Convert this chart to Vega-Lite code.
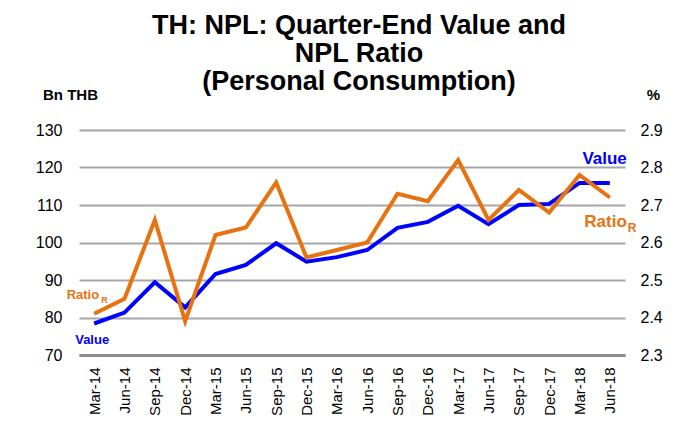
{
  "$schema": "https://vega.github.io/schema/vega-lite/v6.json",
  "width": 546,
  "height": 225,
  "autosize": {"type": "none"},
  "padding": {"left": 79, "top": 130, "right": 54, "bottom": 68},
  "background": "white",
  "config": {
    "view": {"stroke": null},
    "font": "Liberation Sans",
    "axis": {"labelFont": "Liberation Sans", "titleFont": "Liberation Sans", "labelOverlap": false, "labelColor": "#000000", "titleColor": "#000000"},
    "axisLeft": {
      "tickCount": 7,
      "titleAngle": 0,
      "titleAlign": "center",
      "titleBaseline": "middle",
      "titleX": -9,
      "titleY": -36,
      "titleFontSize": 15,
      "titleFontWeight": "bold",
      "labelFontSize": 16,
      "labelPadding": 17,
      "ticks": false,
      "domain": false,
      "grid": true,
      "gridColor": "#a6a6a6",
      "gridWidth": 2
    },
    "axisRight": {
      "tickCount": 7,
      "titleAngle": 0,
      "titleAlign": "center",
      "titleBaseline": "middle",
      "titleX": 28,
      "titleY": -36,
      "titleFontSize": 15,
      "titleFontWeight": "bold",
      "labelFontSize": 16,
      "labelPadding": 15,
      "ticks": false,
      "domain": false,
      "grid": false
    }
  },
  "title": {
    "text": ["TH: NPL: Quarter-End Value and", "NPL Ratio", "(Personal Consumption)"],
    "font": "Liberation Sans",
    "fontSize": 27,
    "fontWeight": "bold",
    "lineHeight": 28,
    "color": "#000000",
    "anchor": "middle",
    "frame": "group",
    "dx": 7,
    "offset": -9
  },
  "datasets": {
    "npl": [
      {"q": "Mar-14", "value": 78.4, "ratio": 2.41},
      {"q": "Jun-14", "value": 81.3, "ratio": 2.45},
      {"q": "Sep-14", "value": 89.4, "ratio": 2.66},
      {"q": "Dec-14", "value": 82.7, "ratio": 2.39},
      {"q": "Mar-15", "value": 91.6, "ratio": 2.62},
      {"q": "Jun-15", "value": 94.0, "ratio": 2.64},
      {"q": "Sep-15", "value": 99.8, "ratio": 2.76},
      {"q": "Dec-15", "value": 94.9, "ratio": 2.56},
      {"q": "Mar-16", "value": 96.1, "ratio": 2.58},
      {"q": "Jun-16", "value": 98.0, "ratio": 2.60},
      {"q": "Sep-16", "value": 103.9, "ratio": 2.73},
      {"q": "Dec-16", "value": 105.5, "ratio": 2.71},
      {"q": "Mar-17", "value": 109.8, "ratio": 2.82},
      {"q": "Jun-17", "value": 104.9, "ratio": 2.66},
      {"q": "Sep-17", "value": 110.0, "ratio": 2.74},
      {"q": "Dec-17", "value": 110.3, "ratio": 2.68},
      {"q": "Mar-18", "value": 115.9, "ratio": 2.78},
      {"q": "Jun-18", "value": 115.9, "ratio": 2.72}
    ]
  },
  "encoding": {
    "x": {
      "field": "q",
      "type": "ordinal",
      "sort": null,
      "scale": {"type": "point", "padding": 0.5, "domain": ["Mar-14","Jun-14","Sep-14","Dec-14","Mar-15","Jun-15","Sep-15","Dec-15","Mar-16","Jun-16","Sep-16","Dec-16","Mar-17","Jun-17","Sep-17","Dec-17","Mar-18","Jun-18"]},
      "axis": {
        "title": null,
        "labelAngle": -90,
        "labelAlign": "right",
        "labelBaseline": "middle",
        "labelFontSize": 15,
        "labelPadding": 12,
        "ticks": false,
        "domain": true,
        "domainColor": "#8c8c8c",
        "domainWidth": 3,
        "grid": false
      }
    }
  },
  "layer": [
    {
      "layer": [
        {
          "data": {"name": "npl"},
          "mark": {"type": "line", "color": "#0000FF", "strokeWidth": 4},
          "encoding": {
            "y": {
              "field": "value",
              "type": "quantitative",
              "scale": {"domain": [70, 130], "nice": false, "zero": false},
              "axis": {"orient": "left", "title": "Bn THB"}
            }
          }
        },
        {
          "data": {"values": [{"q": "Mar-14", "value": 74, "label": "Value"}]},
          "mark": {"type": "text", "color": "#0000FF", "fontWeight": "bold", "fontSize": 13, "align": "center", "baseline": "middle", "dx": -2},
          "encoding": {
            "y": {"field": "value", "type": "quantitative", "axis": {"orient": "left", "title": "Bn THB"}},
            "text": {"field": "label"}
          }
        },
        {
          "data": {"values": [{"q": "Jun-18", "value": 122.3, "label": "Value"}]},
          "mark": {"type": "text", "color": "#0000FF", "fontWeight": "bold", "fontSize": 17, "align": "right", "baseline": "middle", "dx": 17},
          "encoding": {
            "y": {"field": "value", "type": "quantitative", "axis": {"orient": "left", "title": "Bn THB"}},
            "text": {"field": "label"}
          }
        }
      ]
    },
    {
      "layer": [
        {
          "data": {"name": "npl"},
          "mark": {"type": "line", "color": "#E8720F", "strokeWidth": 4},
          "encoding": {
            "y": {
              "field": "ratio",
              "type": "quantitative",
              "scale": {"domain": [2.3, 2.9], "nice": false, "zero": false},
              "axis": {"orient": "right", "title": "%"}
            }
          }
        },
        {
          "data": {"values": [{"q": "Mar-14", "ratio": 2.46, "label": "Ratio"}]},
          "mark": {"type": "text", "color": "#E8720F", "fontWeight": "bold", "fontSize": 13, "align": "right", "baseline": "middle", "dx": 5},
          "encoding": {
            "y": {"field": "ratio", "type": "quantitative", "axis": {"orient": "right", "title": "%"}},
            "text": {"field": "label"}
          }
        },
        {
          "data": {"values": [{"q": "Mar-14", "ratio": 2.46, "label": "R"}]},
          "mark": {"type": "text", "color": "#E8720F", "fontWeight": "bold", "fontSize": 9, "align": "left", "baseline": "middle", "dx": 7, "dy": 5},
          "encoding": {
            "y": {"field": "ratio", "type": "quantitative", "axis": {"orient": "right", "title": "%"}},
            "text": {"field": "label"}
          }
        },
        {
          "data": {"values": [{"q": "Jun-18", "ratio": 2.655, "label": "Ratio"}]},
          "mark": {"type": "text", "color": "#E8720F", "fontWeight": "bold", "fontSize": 17, "align": "right", "baseline": "middle", "dx": 17},
          "encoding": {
            "y": {"field": "ratio", "type": "quantitative", "axis": {"orient": "right", "title": "%"}},
            "text": {"field": "label"}
          }
        },
        {
          "data": {"values": [{"q": "Jun-18", "ratio": 2.655, "label": "R"}]},
          "mark": {"type": "text", "color": "#E8720F", "fontWeight": "bold", "fontSize": 12, "align": "left", "baseline": "middle", "dx": 18, "dy": 6},
          "encoding": {
            "y": {"field": "ratio", "type": "quantitative", "axis": {"orient": "right", "title": "%"}},
            "text": {"field": "label"}
          }
        }
      ]
    }
  ],
  "resolve": {"scale": {"y": "independent"}}
}
